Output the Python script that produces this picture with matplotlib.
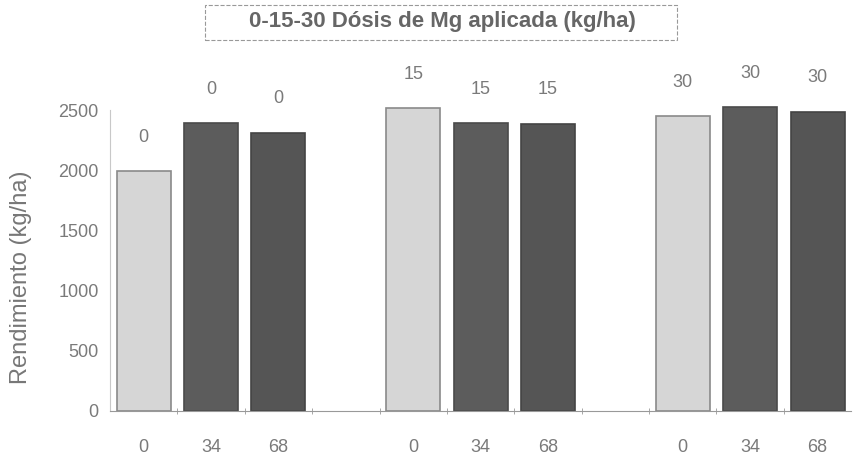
import numpy as np
import matplotlib
matplotlib.use("Agg")
import matplotlib.pyplot as plt
from matplotlib.patches import Rectangle

# Mg doses (group labels shown above bars) and K doses (x tick labels)
mg_doses = ["0", "15", "30"]
k_doses = ["0", "34", "68"]

# yield (kg/ha) per Mg group, ordered by K dose 0, 34, 68
rend_mg0 = [1990, 2390, 2310]
rend_mg15 = [2515, 2390, 2385]
rend_mg30 = [2450, 2525, 2485]
rendimientos = [rend_mg0, rend_mg15, rend_mg30]

plt.rcParams['font.family'] = ['Liberation Sans', 'DejaVu Sans']

fig = plt.figure(figsize=(8.59, 4.61), dpi=100)
ax = fig.add_axes([0.128, 0.1085, 0.863, 0.705])

txt_col = '#7a7a7a'
face = ['#d6d6d6', '#5c5c5c', '#555555']
edge = ['#8a8a8a', '#4a4a4a', '#444444']

xt, xl = [], []
for g, vals in enumerate(rendimientos):
    for j, v in enumerate(vals):
        x = g * 4 + j
        ax.bar(x, v, width=0.8, color=face[j], edgecolor=edge[j], linewidth=1.2)
        ax.annotate(mg_doses[g], (x, v), xytext=(0, 34), textcoords='offset pixels',
                    ha='center', va='center', fontsize=13, color=txt_col)
        xt.append(x)
        xl.append(k_doses[j])

ax.set_xlim(-0.5, 10.5)
ax.set_ylim(0, 2700)
ax.set_yticks([0, 500, 1000, 1500, 2000, 2500])
ax.set_xticks(xt)
ax.set_xticklabels(xl)
ax.set_xticks(np.arange(0.5, 10, 1), minor=True)
ax.tick_params(axis='x', which='major', length=0, pad=20, labelsize=13, labelcolor=txt_col)
ax.tick_params(axis='x', which='minor', length=5, direction='inout', color='#999999')
ax.tick_params(axis='y', length=0, pad=8, labelsize=13, labelcolor=txt_col)

for s in ['top', 'right']:
    ax.spines[s].set_visible(False)
ax.spines['left'].set_bounds(0, 2500)
ax.spines['left'].set_color('#c8c8c8')
ax.spines['bottom'].set_color('#999999')

ax.set_ylabel("Rendimiento (kg/ha)", fontsize=17, color='#777777')
ax.yaxis.set_label_coords(-0.105, 0.41)

fig.text(0.5145, 0.953, "0-15-30 Dósis de Mg aplicada (kg/ha)", ha='center', va='center',
         fontsize=16, fontweight='bold', color='#666666')
fig.patches.append(Rectangle((205 / 859, 1 - 40 / 461), 472 / 859, 35 / 461,
                             transform=fig.transFigure, fill=False, edgecolor='#999999',
                             linestyle='--', linewidth=0.8))

fig.savefig("out.png", dpi=100)
